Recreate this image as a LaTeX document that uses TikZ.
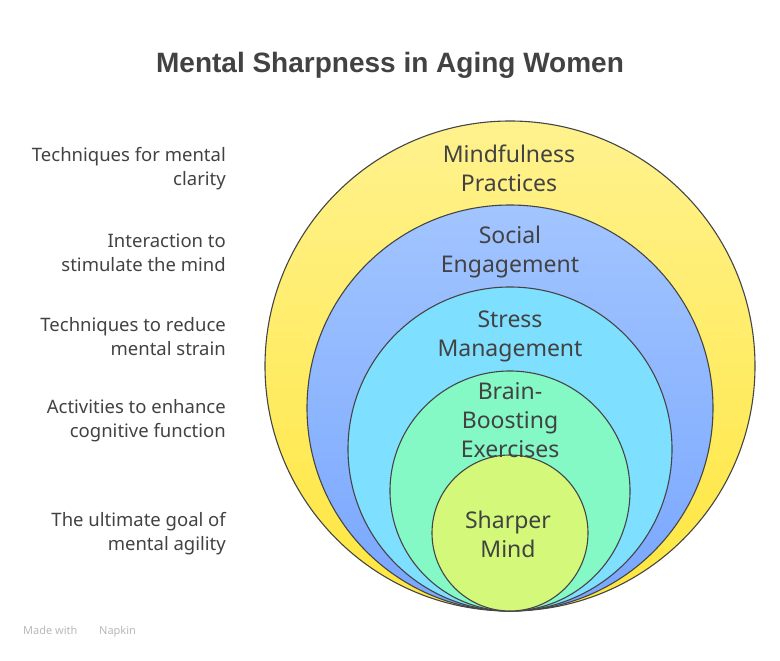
\documentclass[tikz,border=0pt]{standalone}
\usepackage{fontspec}
\setmainfont{Noto Sans}
\newfontfamily\headfont{Liberation Sans}
\usepackage{xcolor}
\usetikzlibrary{positioning}

\definecolor{ink}{HTML}{424242}
\definecolor{rimline}{HTML}{454545}
\definecolor{mindtop}{HTML}{FFF28E}
\definecolor{mindbot}{HTML}{FFE63E}
\definecolor{socialtop}{HTML}{A2C5FF}
\definecolor{socialbot}{HTML}{78A6FF}
\definecolor{stressfill}{HTML}{7FDFFF}
\definecolor{brainfill}{HTML}{84F8C5}
\definecolor{sharpfill}{HTML}{D3F87A}
\definecolor{mark}{HTML}{B8B8B8}

\begin{document}
\begin{tikzpicture}[
  x=1pt, y=-1pt,
  ring/.style={draw=rimline, line width=1.1pt, circle, inner sep=0pt},
  ringlabel/.style={align=center, text=ink, font=\fontsize{23}{29}\selectfont},
  note/.style={anchor=east, inner sep=0pt, align=right, text=ink, font=\fontsize{18.5}{24}\selectfont},
  title/.style={text=ink, font=\headfont\fontsize{28}{32}\selectfont\bfseries}
]
\useasboundingbox (0,0) rectangle (780,661);

\node[title] (head) at (390,65) {Mental Sharpness in Aging Women};

\node[ring, minimum size=490pt, top color=mindtop, bottom color=mindbot] (mind) at (510,366) {};
\node[ring, minimum size=406pt, top color=socialtop, bottom color=socialbot] (social) at (510,408) {};
\node[ring, minimum size=324pt, fill=stressfill] (stress) at (510,449) {};
\node[ring, minimum size=240pt, fill=brainfill] (brain) at (510,491) {};
\node[ring, minimum size=156pt, fill=sharpfill] (sharp) at (510,533) {};

\node[ringlabel] (mindtxt)   at (509,168) {Mindfulness\\Practices};
\node[ringlabel] (socialtxt) at (510,252) {Social\\Engagement};
\node[ringlabel] (stresstxt) at (510,336) {Stress\\Management};
\node[ringlabel] (braintxt)  at (510,420) {Brain-\\Boosting\\Exercises};
\node[ringlabel] (sharptxt)  at (508,534) {Sharper\\Mind};

\node[note] (mindnote)   at (226,169) {Techniques for mental\\clarity};
\node[note] (socialnote) at (226,253) {Interaction to\\stimulate the mind};
\node[note] (stressnote) at (226,337) {Techniques to reduce\\mental strain};
\node[note] (brainnote)  at (226,421) {Activities to enhance\\cognitive function};
\node[note] (sharpnote)  at (226,534) {The ultimate goal of\\mental agility};

\node[anchor=west, inner sep=0pt, text=mark, font=\fontsize{11}{13}\selectfont] (madewith) at (23,632) {Made with \hspace{16pt} Napkin};
\end{tikzpicture}
\end{document}
